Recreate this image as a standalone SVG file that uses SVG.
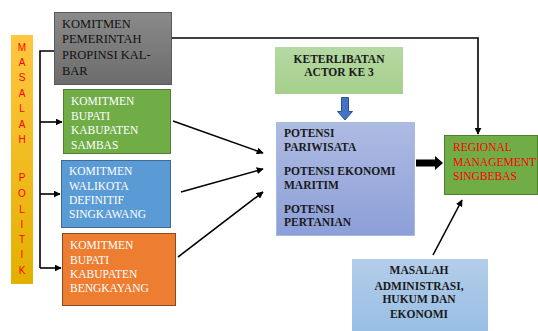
<svg xmlns="http://www.w3.org/2000/svg" width="538" height="331" viewBox="0 0 538 331">
<defs>
<linearGradient id="gBar" x1="0" y1="0" x2="0" y2="1"><stop offset="0" stop-color="#ffc740"/><stop offset="1" stop-color="#e2b000"/></linearGradient>
<linearGradient id="gGray" x1="0" y1="0" x2="0" y2="1"><stop offset="0" stop-color="#8a8a8a"/><stop offset="1" stop-color="#6c6c6c"/></linearGradient>
<linearGradient id="gKet" x1="0" y1="0" x2="0" y2="1"><stop offset="0" stop-color="#b5d9a3"/><stop offset="1" stop-color="#a6cf8c"/></linearGradient>
<linearGradient id="gPot" x1="0" y1="0" x2="0" y2="1"><stop offset="0" stop-color="#aebbe2"/><stop offset="1" stop-color="#8d9fd8"/></linearGradient>
<linearGradient id="gAdm" x1="0" y1="0" x2="0" y2="1"><stop offset="0" stop-color="#b4cdea"/><stop offset="1" stop-color="#98bfe4"/></linearGradient>
<marker id="ah" viewBox="0 0 10 10" refX="9" refY="5" markerWidth="7" markerHeight="7" markerUnits="userSpaceOnUse" orient="auto"><path d="M0,0 L10,5 L0,10 z" fill="#000"/></marker>
</defs>
<style>
.t{font-family:"Liberation Serif","Times New Roman",serif;font-size:11.5px}
.b{font-family:"Liberation Serif","Times New Roman",serif;font-size:11.5px;font-weight:bold;fill:#1a1a1a}
.w{fill:#ffffff}
.ln{stroke:#000;stroke-width:1.6;fill:none}
.let{font-family:"Liberation Sans",Arial,sans-serif;font-size:10px;fill:#ff0000;text-anchor:middle}
</style>

<g id="masalah-politik">
<rect x="11" y="35" width="22" height="249" fill="url(#gBar)"/>
<text class="let" x="22" y="50.5">M</text>
<text class="let" x="22" y="65.5">A</text>
<text class="let" x="22" y="81">S</text>
<text class="let" x="22" y="96.5">A</text>
<text class="let" x="22" y="112">L</text>
<text class="let" x="22" y="127.5">A</text>
<text class="let" x="22" y="142.5">H</text>
<text class="let" x="22" y="180.5">P</text>
<text class="let" x="22" y="196.5">O</text>
<text class="let" x="22" y="212.5">L</text>
<text class="let" x="22" y="228">I</text>
<text class="let" x="22" y="242.5">T</text>
<text class="let" x="22" y="257.5">I</text>
<text class="let" x="22" y="273.5">K</text>
</g>

<g id="kalbar">
<rect x="54.5" y="12.5" width="117" height="72" fill="url(#gGray)" stroke="#5a5a5a" stroke-width="1"/>
<text class="t" style="font-size:12.5px" fill="#111" x="62" y="27.5">KOMITMEN</text>
<text class="t" style="font-size:12.5px" fill="#111" x="62" y="43">PEMERINTAH</text>
<text class="t" style="font-size:12.5px" fill="#111" x="62" y="58.5">PROPINSI KAL-</text>
<text class="t" style="font-size:12.5px" fill="#111" x="62" y="74.5">BAR</text>
</g>

<g id="sambas">
<rect x="63.5" y="89.5" width="107" height="64" fill="#70ad47" stroke="#4f7d31" stroke-width="1"/>
<text class="t w" x="71" y="105">KOMITMEN</text>
<text class="t w" x="71" y="120">BUPATI</text>
<text class="t w" x="71" y="134">KABUPATEN</text>
<text class="t w" x="71" y="149">SAMBAS</text>
</g>

<g id="singkawang">
<rect x="61.5" y="160.5" width="109" height="67" fill="#5b9bd5" stroke="#3d6c99" stroke-width="1"/>
<text class="t w" x="69" y="175">KOMITMEN</text>
<text class="t w" x="69" y="190">WALIKOTA</text>
<text class="t w" x="69" y="204">DEFINITIF</text>
<text class="t w" x="69" y="218">SINGKAWANG</text>
</g>

<g id="bengkayang">
<rect x="62.5" y="233.5" width="113" height="72" fill="#ed7d31" stroke="#8a4a1e" stroke-width="1"/>
<text class="t w" x="70" y="249">KOMITMEN</text>
<text class="t w" x="70" y="264">BUPATI</text>
<text class="t w" x="70" y="278">KABUPATEN</text>
<text class="t w" x="70" y="292">BENGKAYANG</text>
</g>

<g id="keterlibatan">
<rect x="275" y="47" width="128" height="47" fill="url(#gKet)"/>
<text class="b" x="339" y="63" text-anchor="middle">KETERLIBATAN</text>
<text class="b" x="339" y="76" text-anchor="middle">ACTOR KE 3</text>
</g>

<g id="potensi">
<rect x="276.5" y="122.5" width="138" height="113" fill="url(#gPot)" stroke="#a9b9e3" stroke-width="1"/>
<text class="b" x="284" y="137">POTENSI</text>
<text class="b" x="284" y="151">PARIWISATA</text>
<text class="b" x="284" y="175">POTENSI EKONOMI</text>
<text class="b" x="284" y="189">MARITIM</text>
<text class="b" x="284" y="213">POTENSI</text>
<text class="b" x="284" y="226">PERTANIAN</text>
</g>

<g id="regional">
<rect x="444.5" y="135.5" width="93" height="59" fill="#70ad47" stroke="#4f7d31" stroke-width="1"/>
<text class="t" fill="#ff0000" x="453" y="151">REGIONAL</text>
<text class="t" fill="#ff0000" x="453" y="166">MANAGEMENT</text>
<text class="t" fill="#ff0000" x="453" y="180">SINGBEBAS</text>
</g>

<g id="administrasi">
<rect x="352" y="259" width="136" height="72" fill="url(#gAdm)"/>
<text class="b" x="419" y="274" text-anchor="middle">MASALAH</text>
<text class="b" x="419" y="290" text-anchor="middle">ADMINISTRASI,</text>
<text class="b" x="419" y="303" text-anchor="middle">HUKUM DAN</text>
<text class="b" x="419" y="318" text-anchor="middle">EKONOMI</text>
</g>

<g id="connectors">
<polyline class="ln" points="54,51 40,51 40,268"/>
<line class="ln" x1="40" y1="122" x2="62" y2="122" marker-end="url(#ah)"/>
<line class="ln" x1="40" y1="194" x2="60" y2="194" marker-end="url(#ah)"/>
<line class="ln" x1="40" y1="268" x2="61" y2="268" marker-end="url(#ah)"/>
<polyline class="ln" points="172,38 478,38 478,134" marker-end="url(#ah)"/>
<line class="ln" x1="173" y1="121" x2="263" y2="153" marker-end="url(#ah)"/>
<line class="ln" x1="181" y1="192" x2="263" y2="169" marker-end="url(#ah)"/>
<line class="ln" x1="178" y1="257" x2="263" y2="192" marker-end="url(#ah)"/>
<line class="ln" x1="433" y1="255" x2="462" y2="200" marker-end="url(#ah)"/>
<path d="M341.5,97.5 H348.5 V111.5 H352.5 L345,120 L337.5,111.5 H341.5 Z" fill="#4472c4" stroke="#2f528f" stroke-width="1"/>
<path d="M416,159.5 H435 V156 L443,163 L435,170 V166.5 H416 Z" fill="#000"/>
</g>
</svg>
